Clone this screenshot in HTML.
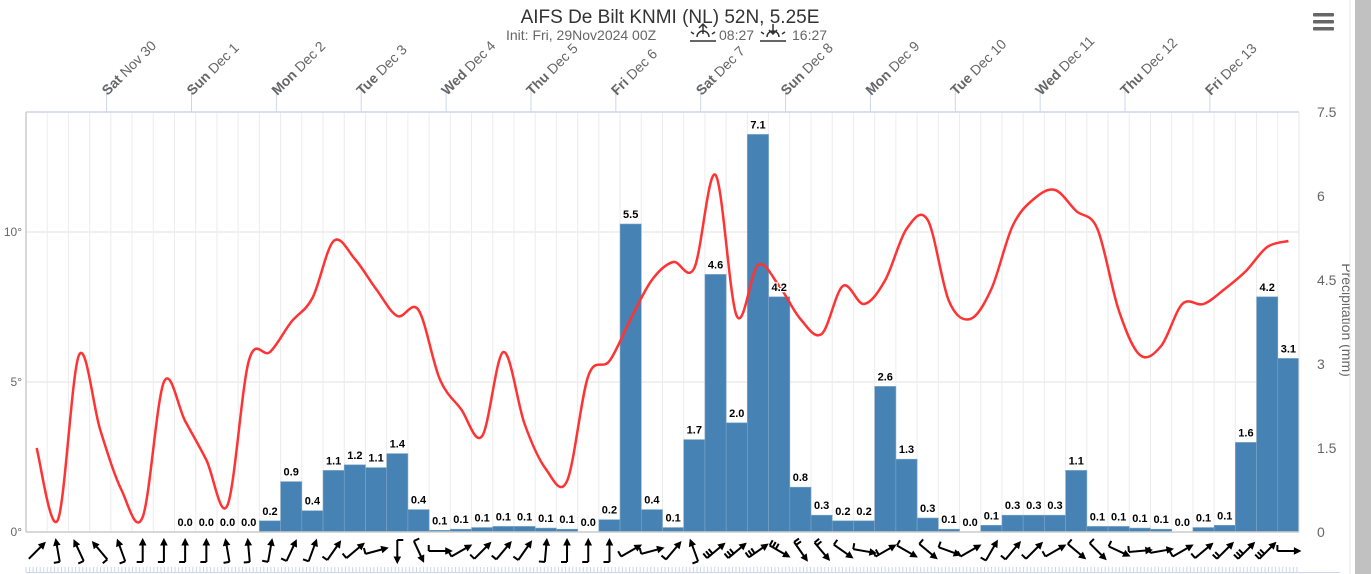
<!DOCTYPE html>
<html><head><meta charset="utf-8">
<style>
html,body{margin:0;padding:0;background:#fff;width:1371px;height:574px;overflow:hidden;font-family:"Liberation Sans",sans-serif;}
svg{display:block}
</style></head>
<body>
<svg id="chart" width="1371" height="574" xmlns="http://www.w3.org/2000/svg">
<text x="670" y="23" text-anchor="middle" font-size="19" fill="#333">AIFS De Bilt KNMI (NL) 52N, 5.25E</text>
<text x="506" y="40" font-size="14" fill="#666">Init: Fri, 29Nov2024 00Z</text>
<g stroke="#333" stroke-width="1.5" fill="none">
<path d="M690 41 h26 M697 37 a6 6 0 0 1 12 0 M703 34 v-10 M699 28 l4 -4 l4 4 M694 34 l-3 -2 M712 34 l3 -2"/></g>
<text x="719" y="40" font-size="14" fill="#666">08:27</text>
<g stroke="#333" stroke-width="1.5" fill="none">
<path d="M760 41 h26 M767 37 a6 6 0 0 1 12 0 M773 24 v10 M769 30 l4 4 l4 -4 M764 34 l-3 -2 M782 34 l3 -2"/></g>
<text x="792" y="40" font-size="14" fill="#666">16:27</text>
<g fill="#666">
<rect x="1313" y="13" width="21" height="3.5" rx="1"/><rect x="1313" y="20" width="21" height="3.5" rx="1"/><rect x="1313" y="27" width="21" height="3.5" rx="1"/></g>
<text transform="translate(1342,320) rotate(90)" text-anchor="middle" font-size="14" fill="#666">Precipitation (mm)</text>
<rect x="1350" y="0" width="5" height="574" fill="#fff"/>
<line x1="1350" y1="0" x2="1350" y2="574" stroke="#e6e6e6"/>
<rect x="1355" y="0" width="16" height="574" fill="#c1c1c1"/>
<g id="grid"></g><g id="bars"></g><g id="line"></g><g id="labels"></g><g id="axes"></g><g id="barbs"></g>
</svg>
<script>
const days=[["Sat","Nov 30"],["Sun","Dec 1"],["Mon","Dec 2"],["Tue","Dec 3"],["Wed","Dec 4"],["Thu","Dec 5"],["Fri","Dec 6"],["Sat","Dec 7"],["Sun","Dec 8"],["Mon","Dec 9"],["Tue","Dec 10"],["Wed","Dec 11"],["Thu","Dec 12"],["Fri","Dec 13"]];
const precip=[null,null,null,null,null,null,null,0.0,0.0,0.0,0.0,0.2,0.9,0.4,1.1,1.2,1.1,1.4,0.4,0.1,0.1,0.1,0.1,0.1,0.1,0.1,0.0,0.2,5.5,0.4,0.1,1.7,4.6,2.0,7.1,4.2,0.8,0.3,0.2,0.2,2.6,1.3,0.3,0.1,0.0,0.1,0.3,0.3,0.3,1.1,0.1,0.1,0.1,0.1,0.0,0.1,0.1,1.6,4.2,3.1];
const precipRaw=[null,null,null,null,null,null,null,0,0,0,0,0.2,0.9,0.38,1.1,1.2,1.15,1.4,0.4,0.03,0.05,0.08,0.1,0.1,0.07,0.05,0,0.22,5.5,0.4,0.08,1.65,4.6,1.95,7.1,4.2,0.8,0.3,0.2,0.2,2.6,1.3,0.25,0.05,0,0.12,0.3,0.3,0.3,1.1,0.1,0.1,0.07,0.05,0,0.08,0.12,1.6,4.2,3.1];
const temp=[2.8,0.4,5.9,3.4,1.4,0.5,5.0,3.7,2.4,0.9,5.7,6.0,7.0,7.8,9.7,9.1,8.1,7.2,7.4,5.1,4.1,3.2,6.0,3.6,2.1,1.7,5.2,5.7,7.1,8.4,9.0,8.8,11.9,7.2,8.9,8.2,7.1,6.6,8.2,7.6,8.4,10.1,10.4,7.7,7.1,8.1,10.2,11.1,11.4,10.7,10.1,7.4,5.9,6.2,7.6,7.6,8.1,8.7,9.5,9.7];
const windDir=[45,-10,-25,-40,-20,0,0,0,0,-10,-5,10,25,20,35,50,75,180,155,90,60,45,40,35,5,0,0,0,60,75,40,-20,50,50,55,120,145,140,125,100,60,120,130,110,60,30,40,45,60,130,135,115,85,80,60,50,45,45,45,90];
const windBarbs=[0,1,1,1,1,1,1,1,1,1,1,1,1,1,1,1,1,1,1,1,1,1,1,1,1,1,1,1,1,1,1,1,3,3,3,3,2,2,1,1,2,1,1,1,1,1,1,1,1,1,1,1,1,1,1,1,2,3,3,1];
const yLeftTicks=[0,5,10], yRightTicks=["0","1.5","3","4.5","6","7.5"];
const L=26,R=1299,T=112,B=532,N=60,W=(R-L)/N;
const xs=i=>L+(i+0.5)*W, yT=v=>B-v*30, yP=v=>B-v*(B-T)/7.5;
const NS="http://www.w3.org/2000/svg";
function mk(p,tag,a){const e=document.createElementNS(NS,tag);for(const k in a)e.setAttribute(k,a[k]);document.getElementById(p).appendChild(e);return e;}
for(let i=0;i<=N;i++){const g=mk('grid','line',{x1:L+i*W,x2:L+i*W,y1:T,y2:B,stroke:'#ececec'});

}
yLeftTicks.forEach(v=>{if(v>0){const g=mk('grid','line',{x1:L,x2:R,y1:yT(v),y2:yT(v),stroke:'#ececec','stroke-width':1.5});

}
const t=mk('axes','text',{x:L-4,y:yT(v)+4,'text-anchor':'end','font-size':12,fill:'#666'});t.textContent=v+'°';

});
yRightTicks.forEach(s=>{const t=mk('axes','text',{x:1317,y:yP(+s)+5,'font-size':14,fill:'#666'});t.textContent=s;

});
let a=mk('axes','line',{x1:L,x2:L,y1:T,y2:B,stroke:'#ccc','stroke-width':1.5});
a=mk('axes','line',{x1:L,x2:R,y1:T,y2:T,stroke:'#ccd6eb','stroke-width':1.5});
a=mk('axes','line',{x1:R,x2:R,y1:T,y2:B,stroke:'#e6e6e6'});
a=mk('axes','line',{x1:L,x2:R,y1:B,y2:B,stroke:'#ccc','stroke-width':1.5});
days.forEach((d,k)=>{const x=L+(k*4+3.8)*W;
const l=mk('axes','line',{x1:x,x2:x,y1:86,y2:T,stroke:'#ccd6eb'});
const t=mk('axes','text',{x:x+1,y:96,transform:`rotate(-45 ${x+1} 96)`,'font-size':14,fill:'#666'});
t.innerHTML=`<tspan font-weight="bold">${d[0]}</tspan> ${d[1]}`;
});
precip.forEach((v,i)=>{if(v===null)return;const rv=precipRaw[i];const y=yP(rv);
const r=mk('bars','rect',{x:L+i*W,y:y,width:W,height:B-y,fill:'#4682b4',stroke:'#7fa6c9','stroke-width':0.6});

const t=mk('labels','text',{x:xs(i),y:y-6,'text-anchor':'middle','font-size':11,'font-weight':'bold',fill:'#000',stroke:'#fff','stroke-width':2.5,'paint-order':'stroke'});t.textContent=v.toFixed(1);
});
const P=temp.map((v,i)=>[xs(i),yT(v)]);let d=`M${P[0][0]},${P[0][1]}`;
for(let i=0;i<P.length-1;i++){const p0=P[Math.max(0,i-1)],p1=P[i],p2=P[i+1],p3=P[Math.min(P.length-1,i+2)];
d+=` C${p1[0]+(p2[0]-p0[0])/6},${p1[1]+(p2[1]-p0[1])/6} ${p2[0]-(p3[0]-p1[0])/6},${p2[1]-(p3[1]-p1[1])/6} ${p2[0]},${p2[1]}`;}
const ln=mk('line','path',{d:d,fill:'none',stroke:'#f33','stroke-width':2.5});

windDir.forEach((ang,i)=>{const cx=xs(i),cy=551;const g=mk('barbs','g',{transform:`translate(${cx},${cy}) rotate(${ang})`,stroke:'#000','stroke-width':2,fill:'#000'});

g.innerHTML=`<line x1="0" y1="11" x2="0" y2="-9"/><path d="M-3,-6 L0,-12 L3,-6 Z" stroke-width="1"/>`+
Array.from({length:windBarbs[i]},(_,k)=>`<line x1="0" y1="${11-k*3.5}" x2="-6" y2="${11-k*3.5}"/>`).join('');});
for(let x=L;x<R;x+=3.55){const t=mk('barbs','line',{x1:x,x2:x,y1:567,y2:572,stroke:'#ccd6eb'});}
a=mk('barbs','line',{x1:L,x2:1340,y1:572.5,y2:572.5,stroke:'#ccd6eb'});
</script>
</body></html>
